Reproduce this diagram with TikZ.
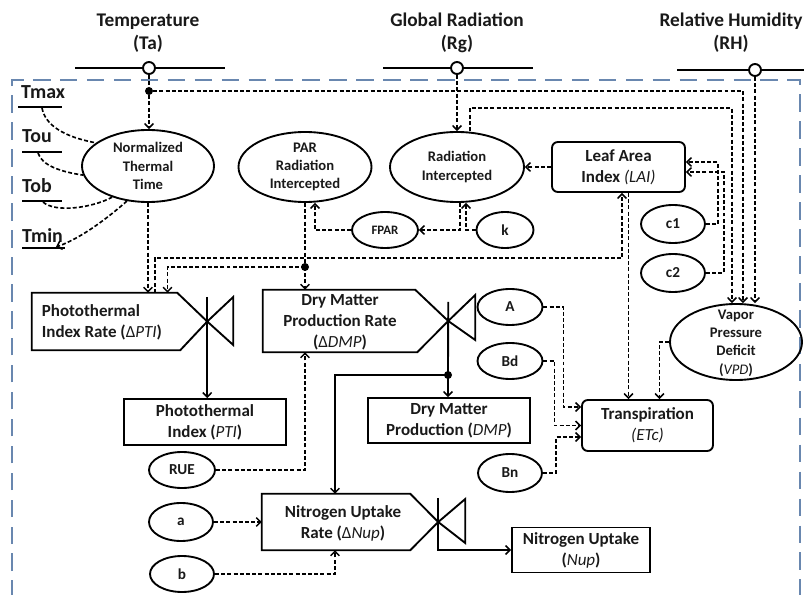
\documentclass[tikz,border=0pt]{standalone}
\usepackage{fontspec}
\setmainfont{Carlito}
\usetikzlibrary{arrows.meta,shapes.geometric}
\def\PX{0.03cm}
\definecolor{bordc}{RGB}{105,135,175}
\definecolor{txtc}{RGB}{25,25,25}
\newcommand{\myab}[1]{{\mdseries\itshape #1}}
\begin{document}
\begin{tikzpicture}[x=0.03cm,y=-0.03cm,
  sl/.style={line width=1.6pt},
  dl/.style={line width=1.4pt, dash pattern=on 3.4pt off 1.9pt},
  arr/.style={-{Straight Barb[length=3.8pt,width=7.5pt,line width=1.3pt]}},
  bord/.style={draw=bordc, line width=1.6pt, dash pattern=on 15pt off 8pt},
  toplbl/.style={font=\fontsize{16.5}{19.6}\selectfont\bfseries, align=center, text=txtc},
  tl/.style={font=\fontsize{17}{19}\selectfont\bfseries, text=txtc, inner sep=0pt},
  etxt/.style={font=\fontsize{12.5}{15.6}\selectfont\bfseries, align=center, text=txtc},
  btxt/.style={font=\fontsize{14.5}{18}\selectfont\bfseries, align=center, text=txtc},
  stxt/.style={font=\fontsize{13}{14}\selectfont\bfseries, text=txtc},
  ell/.style 2 args={ellipse, draw, sl, inner sep=0pt, minimum width=#1*\PX, minimum height=#2*\PX},
  sell/.style 2 args={ell={#1}{#2}, stxt},
  rbox/.style 2 args={rectangle, draw, sl, inner sep=0pt, minimum width=#1*\PX, minimum height=#2*\PX, btxt},
  rrbox/.style 2 args={rbox={#1}{#2}, rounded corners=5pt},
  ratebox/.style 2 args={rectangle, inner sep=0pt, minimum width=#1*\PX, minimum height=#2*\PX},
  dot/.style={circle, fill=black, inner sep=0pt, minimum size=8*\PX},
  tcirc/.style={circle, draw, fill=white, sl, inner sep=0pt, minimum size=12*\PX}
]
\useasboundingbox (0,0) rectangle (804,595);

% system border
\draw[bord] (12,598) -- (12,80) -- (800,80) -- (800,598);

% top drivers
\node[toplbl] (tatxt) at (148,33) {Temperature\\(Ta)};
\draw[sl] (75,68) -- (225,68);
\node[tcirc] (tac) at (149,68) {};
\node[toplbl] (rgtxt) at (457,33) {Global Radiation\\(Rg)};
\draw[sl] (383,68) -- (533,68);
\node[tcirc] (rgc) at (457,68) {};
\node[toplbl] (rhtxt) at (731,33) {Relative Humidity\\(RH)};
\draw[sl] (677,70) -- (804,70);
\node[tcirc] (rhc) at (755,70) {};

% temperature parameters
\node[tl, anchor=west] (tmax) at (21,92) {Tmax};
\draw[sl] (18,107) -- (62,107);
\coordinate (tmaxu) at (42,108);
\node[tl, anchor=west] (tou) at (22,136) {Tou};
\draw[sl] (22,152) -- (62,152);
\coordinate (touu) at (38,153);
\node[tl, anchor=west] (tob) at (22,186) {Tob};
\draw[sl] (22,201) -- (62,201);
\coordinate (tobu) at (43,202);
\node[tl, anchor=west] (tmin) at (22,236) {Tmin};
\draw[sl] (22,248) -- (65,248);
\coordinate (tminu) at (56,247);

% ellipses
\node[ell={132}{72}] (ntt) at (148,166) {};
\node[etxt] at (ntt) {Normalized\\Thermal\\Time};
\node[ell={133}{70}] (par) at (305,167) {};
\node[etxt] at (par) {PAR\\Radiation\\Intercepted};
\node[ell={134}{70}] (ri) at (457,167) {};
\node[etxt] at (ri) {Radiation\\Intercepted};
\node[ell={132}{76}] (vpd) at (736,342) {};
\node[etxt] at ([yshift=-1*\PX]vpd.center) {Vapor\\Pressure\\Deficit\\({\mdseries\itshape VPD})};

\node[sell={66}{36}, font=\fontsize{11}{12}\selectfont\bfseries] (fpar) at (385,230) {FPAR};
\node[sell={57}{36}] (k) at (505,230) {k};
\node[sell={64}{38}] (c1) at (673,224) {c1};
\node[sell={64}{38}] (c2) at (673,273) {c2};
\node[sell={65}{36}] (A) at (510,307) {A};
\node[sell={65}{36}] (Bd) at (510,361) {Bd};
\node[sell={64}{38}] (Bn) at (510,473) {Bn};
\node[sell={66}{36}] (rue) at (182,470) {RUE};
\node[sell={64}{38}] (a) at (181,522) {a};
\node[sell={64}{36}] (b) at (182,574) {b};

% boxes
\node[rrbox={133}{50}] (lai) at (618.5,167) {Leaf Area\\Index \myab{(LAI)}};
\node[rbox={162}{46}] (pti) at (205,422) {Photothermal\\Index (\myab{PTI})};
\node[rbox={162}{45}] (dmp) at (449,420.5) {Dry Matter\\Production (\myab{DMP})};
\node[rrbox={131}{51}] (transp) at (647.5,425.5) {Transpiration\\\myab{(ETc)}};
\node[rbox={138}{45}] (nu) at (581,550) {Nitrogen Uptake\\(\myab{Nup})};

% rate (flow) shapes with valves
\node[ratebox={175}{57}] (ptir) at (119.5,321.5) {};
\draw[sl] (ptir.north west) -- ([xshift=-30*\PX]ptir.north east) -- (ptir.east)
  -- ([xshift=-27*\PX]ptir.south east) -- (ptir.south west) -- cycle;
\draw[sl] (ptir.east) -- ++(26,-24.5) -- ++(0,48) -- cycle;
\node[btxt, align=left, anchor=west] at ([xshift=6*\PX,yshift=-1*\PX]ptir.west) {Photothermal\\Index Rate ({\mdseries Δ\itshape PTI})};

\node[ratebox={185}{62}] (dmpr) at (355.5,321) {};
\draw[sl] (dmpr.north west) -- ([xshift=-33*\PX]dmpr.north east) -- (dmpr.east)
  -- ([xshift=-31*\PX]dmpr.south east) -- (dmpr.south west) -- cycle;
\draw[sl] (dmpr.east) -- ++(27,-26) -- ++(0,45) -- cycle;
\node[btxt] at (340,322) {Dry Matter\\Production Rate\\({\mdseries Δ\itshape DMP})};

\node[ratebox={176}{56}] (nur) at (350,522) {};
\draw[sl] (nur.north west) -- ([xshift=-28*\PX]nur.north east) -- (nur.east)
  -- ([xshift=-28*\PX]nur.south east) -- (nur.south west) -- cycle;
\draw[sl] (nur.east) -- ++(27,-23) -- ++(0,44) -- cycle;
\node[btxt] at (343,523) {Nitrogen Uptake\\Rate ({\mdseries Δ\itshape Nup})};

% temperature curves
\draw[dl] (tmaxu) .. controls (46,130) and (75,139) .. (ntt.156);
\draw[dl] (touu) .. controls (42,166) and (62,172) .. (ntt.188);
\draw[dl] (tobu) .. controls (55,213) and (92,208) .. (ntt.221);
\draw[dl,arr] (ntt.239) .. controls (110,216) and (82,238) .. (tminu);

% drivers
\node[dot] (dta) at (149,91) {};
\draw[dl] (tac) -- (dta);
\draw[dl,arr] (dta) -- (dta |- ntt.north);
\coordinate (cta) at (743,91);
\draw[dl,arr] (dta) -- (cta) -- (cta |- vpd.north);
\draw[dl,arr] (rgc) -- (ri.north);
\coordinate (cri) at (732,108);
\draw[dl,arr] ([xshift=13*\PX]ri.north) |- (cri) -- (cri |- vpd.north);
\draw[dl,arr] (rhc) -- (rhc |- vpd.north);

% thermal time -> PTI rate
\draw[dl,arr] (ntt.south) -- (ntt.south |- ptir.north);

% radiation chain
\draw[dl,arr] ([xshift=3*\PX]ri.south) |- (fpar.east);
\draw[dl,arr] (k.west) -| ([xshift=9*\PX]ri.south);
\draw[dl,arr] (fpar.west) -| ([xshift=10*\PX]par.south);
\node[dot] (dpar) at (305,267) {};
\draw[dl] (par.south) -- (dpar.center);
\draw[dl,arr] (dpar.center) -- (dpar |- dmpr.north);
\draw[dl,arr] (dpar.center) -| ([xshift=48*\PX]ptir.north);

% PTI rate -> LAI
\coordinate (clai) at (622,258);
\draw[dl,arr] ([xshift=35.5*\PX]ptir.north) |- (clai) -- (clai |- lai.south);

% LAI links
\draw[dl,arr] (lai.west) -- (ri.east);
\draw[dl,arr] (c1.east) -- ++(12,0) |- ([yshift=5*\PX]lai.east);
\draw[dl,arr] (c2.east) -- ++(18,0) |- ([yshift=-5*\PX]lai.east);
\draw[dl,arr] ([xshift=10*\PX]lai.south) -- ([xshift=10*\PX]lai.south |- transp.north);

% transpiration inputs
\draw[dl,arr] (vpd.west) -| ([xshift=12*\PX]transp.north);
\draw[dl,arr] (A.east) -- ++(20,0) |- ([yshift=18.5*\PX]transp.west);
\draw[dl,arr] (Bd.east) -- ++(11,0) |- (transp.west);
\draw[dl,arr] (Bn.east) -- ++(13,0) |- ([yshift=-11.5*\PX]transp.west);

% stocks from valves
\draw[sl,arr] ([yshift=-4*\PX]ptir.north east) -- (ptir.north east |- pti.north);
\node[dot] (ddm) at (448,375) {};
\draw[sl] ([yshift=-12*\PX]dmpr.north east) -- (ddm.center);
\draw[sl,arr] (ddm.center) -- (ddm |- dmp.north);
\draw[sl,arr] (ddm.center) -| ([xshift=-15*\PX]nur.north);
\draw[sl,arr] ([yshift=-4*\PX]nur.north east) |- (nu.west);

% parameters to rates
\draw[dl,arr] (rue.east) -| ([xshift=-50.5*\PX]dmpr.south);
\draw[dl,arr] (a.east) -- (a.east -| nur.west);
\draw[dl,arr] (b.east) -| ([xshift=-15*\PX]nur.south);
\end{tikzpicture}
\end{document}
